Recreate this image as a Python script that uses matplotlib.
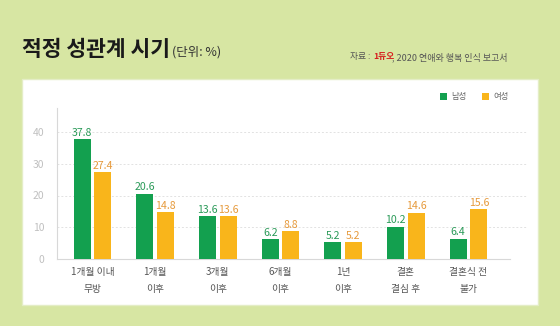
import matplotlib
matplotlib.use("Agg")
import matplotlib.pyplot as plt
import numpy as np
from matplotlib.patches import Rectangle

plt.rcParams["font.family"] = ["Noto Sans CJK KR", "DejaVu Sans"]

# ── Data ──────────────────────────────────────────────────────────────────────
categories = ["1개월 이내\n무방", "1개월\n이후", "3개월\n이후", "6개월\n이후",
              "1년\n이후", "결혼\n결심 후", "결혼식 전\n불가"]
male = [37.8, 20.6, 13.6, 6.2, 5.2, 10.2, 6.4]
female = [27.4, 14.8, 13.6, 8.8, 5.2, 14.6, 15.6]
series_names = ["남성", "여성"]
y_ticks = [0, 10, 20, 30, 40]

# ── Style ─────────────────────────────────────────────────────────────────────
BG = "#d7e6a3"
GREEN = "#13a04f"
ORANGE = "#f9b51b"
GREEN_TXT = "#2a9a58"
ORANGE_TXT = "#e69a3c"

W, H = 560, 326
fig = plt.figure(figsize=(W / 100, H / 100), dpi=100)
fig.patch.set_facecolor(BG)

# white panel (background axes so it sits under the chart)
bg = fig.add_axes([0, 0, 1, 1], zorder=0)
bg.set_xlim(0, W)
bg.set_ylim(H, 0)
bg.axis("off")
bg.add_patch(Rectangle((22, 79), 516, 226, facecolor="white",
                       edgecolor="#e4edc6", linewidth=1.0))

# title + source
bg.text(22, 50, "적정 성관계 시기", fontsize=15.5, fontweight="bold",
        color="#1a1a1a", va="center", ha="left")
bg.text(172, 52, "(단위: %)", fontsize=9, color="#333333",
        va="center", ha="left")
bg.text(350, 57, "자료 :", fontsize=6.3, color="#555555",
        va="center", ha="left")
bg.text(373, 57, "1듀오", fontsize=6.3, fontweight="bold",
        color="#d6201f", va="center", ha="left")
bg.text(392, 57, ", 2020 연애와 행복 인식 보고서", fontsize=6.5,
        color="#555555", va="center", ha="left")

# ── Axes ──────────────────────────────────────────────────────────────────────
ax = fig.add_axes([57 / W, 1 - 259 / H, 471 / W, 151 / H], zorder=2)
ax.set_facecolor("none")
px = 62.7
ax.set_xlim(-35.5 / px, 6 + 59.5 / px)
ax.set_ylim(0, 151 / 31.75 * 10)

x = np.arange(len(categories))
off, bw = 0.164, 0.27
ax.bar(x - off, male, bw, color=GREEN, zorder=3, label=series_names[0])
ax.bar(x + off, female, bw, color=ORANGE, zorder=3, label=series_names[1])

for xi, v in zip(x, male):
    ax.text(xi - off, v + 0.4, f"{v:.1f}", ha="center", va="bottom",
            fontsize=7.6, color=GREEN_TXT)
for xi, v in zip(x, female):
    ax.text(xi + off, v + 0.4, f"{v:.1f}", ha="center", va="bottom",
            fontsize=7.6, color=ORANGE_TXT)

ax.set_yticks(y_ticks)
ax.set_yticklabels([str(t) for t in y_ticks], fontsize=7.5, color="#c0c0c0")
ax.tick_params(axis="y", length=0, pad=9)
ax.set_xticks(x)
ax.set_xticklabels(categories, fontsize=7, color="#555555", linespacing=1.8)
ax.tick_params(axis="x", length=0, pad=6)

for t in y_ticks[1:]:
    ax.axhline(t, color="#e2e2e2", linewidth=0.7, linestyle=(0, (2, 2)), zorder=1)

for s in ["top", "right"]:
    ax.spines[s].set_visible(False)
ax.spines["left"].set_color("#d8d8d8")
ax.spines["bottom"].set_color("#d8d8d8")
ax.spines["left"].set_linewidth(0.8)
ax.spines["bottom"].set_linewidth(0.8)
ax.spines["bottom"].set_bounds(-35.5 / px, 6 + 41.5 / px)

# legend
ax.legend(loc="upper right", bbox_to_anchor=(516 / W, 1 - 85 / H),
          bbox_transform=fig.transFigure, ncol=2, frameon=False, fontsize=6,
          handlelength=0.9, handleheight=0.9, columnspacing=1.8,
          handletextpad=0.5, labelcolor="#666666")

fig.savefig("out.png", dpi=100, facecolor=BG)
